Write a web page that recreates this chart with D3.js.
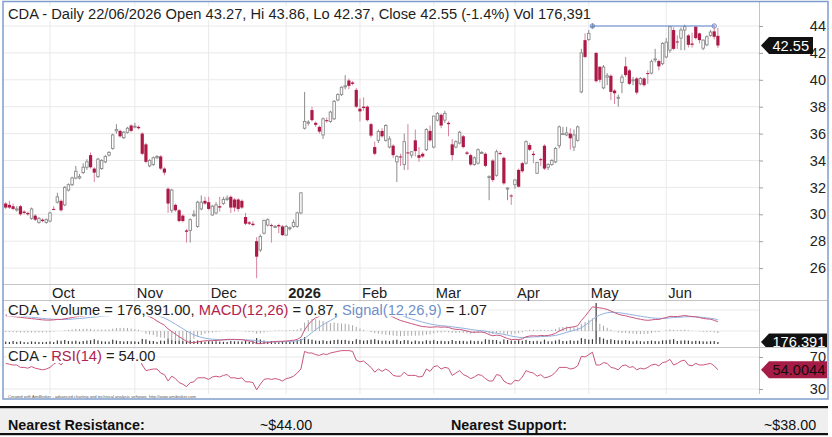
<!DOCTYPE html>
<html><head><meta charset="utf-8">
<script src="https://cdn.jsdelivr.net/npm/d3@7"></script>
<style>
html,body{margin:0;padding:0;background:#fff;}
svg{display:block;font-family:"Liberation Sans",Arial,sans-serif;}
</style></head><body>
<svg id="chart" width="832" height="437"></svg>
<script>
// ---------- DATA ----------
const monthLabels   = ["Oct","Nov","Dec","2026","Feb","Mar","Apr","May","Jun"];
const monthStartIdx = [12,35,55,76,96,116,138,158,179];
const priceTicks = [26,28,30,32,34,36,38,40,42,44];
const macdTicks  = [0,2];
const rsiTicks   = [30,70];

const opens = [
30.8,30.7,30.6,30.4,30.6,30.2,30.1,29.7,29.9,29.4,
29.6,29.4,29.5,30.4,30.9,31.0,30.7,31.8,32.2,32.7,
32.7,33.1,33.5,34.4,33.4,32.8,33.4,33.9,34.4,34.9,
36.2,36.2,35.7,36.1,36.6,36.5,36.5,36.0,35.2,33.6,
33.7,34.2,34.3,33.4,31.9,30.3,30.7,30.3,29.9,28.8,
28.8,29.9,29.1,30.4,31.0,30.9,29.95,30.1,30.6,30.8,
31.1,31.3,31.1,31.1,31.0,29.8,29.4,29.3,28.0,27.35,
28.6,29.2,29.2,29.1,29.2,29.1,28.45,28.95,29.1,29.1,
30.1,36.4,36.8,37.75,36.8,36.5,35.9,37.0,36.9,37.1,
38.5,38.9,39.5,39.95,39.8,39.25,37.85,38.0,38.0,36.7,
35.0,35.5,36.2,35.5,35.0,35.1,33.9,34.3,33.7,34.6,
34.4,35.5,34.4,34.5,34.8,36.2,35.0,37.0,37.4,37.0,
36.8,35.2,35.0,35.3,35.8,34.6,34.4,33.7,33.8,34.6,
34.5,32.8,34.0,32.9,34.55,34.2,31.9,31.4,32.2,33.3,
33.8,33.8,35.15,34.5,33.05,34.1,35.1,33.5,33.7,33.9,
35.1,36.0,35.9,36.0,35.0,35.5,39.1,42.95,43.0,44.0,
42.0,40.97,39.4,40.2,40.3,39.2,38.65,39.8,41.0,40.7,
40.0,40.1,39.7,40.1,40.5,40.5,41.5,41.4,41.2,41.7,
42.2,43.7,42.85,43.1,43.7,43.3,42.7,43.95,43.45,42.35,
42.6,43.3,43.6,43.27];
const highs = [
30.9,31.0,30.8,30.6,30.7,30.3,30.2,30.5,30.0,29.8,
29.7,29.7,30.2,30.6,31.6,31.1,32.1,32.3,32.8,33.6,
33.0,33.8,34.1,34.6,33.5,34.2,34.1,34.4,34.7,36.0,
36.7,36.3,36.2,36.5,36.7,36.8,36.6,36.1,35.3,34.1,
34.3,34.4,34.4,33.5,32.0,31.9,30.8,30.4,30.0,28.9,
29.7,30.3,31.0,31.4,31.3,31.3,30.7,30.9,31.3,31.3,
31.4,31.4,31.2,31.2,31.1,30.1,29.5,29.5,28.3,28.5,
29.6,29.7,29.3,29.2,29.3,29.2,29.2,29.1,29.6,30.2,
31.6,39.1,37.0,38.0,36.9,36.6,37.2,37.2,37.7,38.5,
39.0,39.5,40.35,40.1,39.9,39.4,38.6,38.7,38.1,36.8,
35.4,36.3,36.4,36.7,35.8,35.2,34.4,34.5,36.0,36.7,
34.7,36.3,35.0,34.6,36.4,36.6,37.3,37.6,37.5,37.7,
36.9,35.6,35.5,36.2,35.9,34.7,34.5,34.3,34.9,34.7,
34.6,32.9,34.1,34.8,34.7,34.3,32.0,31.5,32.6,33.4,
33.9,35.5,35.3,34.7,33.9,34.2,35.2,33.8,34.1,35.0,
36.6,36.5,36.5,36.4,36.3,36.6,42.3,43.45,43.7,44.2,
42.05,41.0,41.1,40.5,40.4,39.3,38.9,40.4,41.7,40.8,
40.2,40.2,40.2,40.2,40.7,41.5,42.3,41.5,42.8,43.1,
44.0,43.9,43.3,43.9,44.1,43.4,43.5,44.0,43.5,43.0,
43.3,43.7,44.1,43.86];
const lows = [
30.4,30.4,30.3,30.2,29.9,30.0,29.9,29.6,29.5,29.3,
29.4,29.3,29.4,30.3,30.8,30.2,30.6,31.7,32.1,32.6,
32.6,33.0,33.3,33.4,32.4,32.7,33.3,33.8,34.3,34.8,
36.0,35.7,35.6,36.0,36.1,36.4,36.3,34.4,33.8,33.5,
33.6,34.1,33.3,32.9,30.1,30.1,30.2,29.4,29.4,27.9,
27.9,29.8,29.0,30.3,30.7,30.3,29.9,30.0,30.2,30.7,
31.0,30.1,30.2,30.2,30.4,29.2,29.2,29.1,25.25,27.2,
28.5,29.1,27.9,29.0,28.6,28.4,28.4,28.8,29.0,29.0,
30.0,36.3,36.6,36.9,36.5,36.0,35.6,36.8,36.8,37.0,
38.4,38.8,39.3,39.3,39.6,37.9,36.9,37.7,36.9,35.7,
34.4,35.3,35.7,35.4,34.9,34.2,32.4,33.6,33.3,33.3,
34.2,34.3,33.9,34.2,34.7,35.4,34.9,36.9,36.4,36.8,
35.8,34.0,34.9,35.2,34.9,34.4,33.6,33.6,33.7,34.5,
33.5,31.05,32.4,32.8,34.4,32.2,31.05,30.7,31.9,32.0,
33.1,33.7,34.7,33.8,33.0,33.6,33.3,33.3,33.6,33.8,
34.9,35.9,35.8,34.8,34.7,35.4,39.0,41.6,42.9,43.8,
39.8,39.8,39.3,39.6,38.5,38.2,38.0,39.0,40.2,39.6,
39.6,38.9,39.6,39.5,39.7,40.4,41.3,40.7,41.1,41.6,
42.0,42.2,42.3,42.2,42.2,42.4,42.4,43.0,42.7,42.2,
42.5,43.2,43.0,42.37];
const closes = [
30.5,30.5,30.4,30.4,30.0,30.1,30.0,30.4,29.6,29.7,
29.5,29.6,30.1,30.35,31.3,30.3,32.0,32.2,32.7,33.2,
32.8,33.5,33.9,33.5,33.1,34.1,34.0,34.3,34.6,35.9,
36.3,35.8,36.1,36.4,36.2,36.55,36.4,34.5,33.9,34.0,
34.2,34.3,33.4,33.1,30.8,31.8,30.3,29.5,29.5,28.7,
29.6,30.0,30.9,30.9,30.8,30.4,30.6,30.7,30.5,31.1,
31.2,30.5,30.5,30.4,30.5,29.3,29.3,29.2,26.85,28.35,
29.55,29.6,29.15,29.1,29.1,28.45,29.1,29.0,29.4,30.1,
31.6,36.9,36.85,37.0,36.65,36.15,37.1,36.95,37.6,38.4,
38.9,39.45,39.55,39.55,39.7,38.0,37.65,37.9,37.0,35.85,
34.5,36.15,35.8,36.6,35.6,34.4,34.3,34.25,35.4,34.55,
34.65,34.7,34.2,34.3,36.3,35.5,37.3,37.5,36.6,37.5,
36.7,34.4,35.4,36.1,35.0,34.5,33.7,34.2,34.8,34.6,
33.6,32.8,32.55,34.65,34.5,32.3,31.95,31.35,32.55,32.05,
33.2,35.4,34.8,34.4,33.85,34.05,33.4,33.7,34.0,34.9,
36.5,36.0,36.05,35.65,35.9,36.5,42.0,41.7,43.45,44.0,
39.9,40.0,40.95,40.3,39.1,39.0,38.7,40.2,40.35,39.7,
40.0,39.05,40.1,39.6,40.45,41.35,41.55,41.0,42.7,42.8,
43.95,42.3,42.8,43.7,43.95,42.6,42.6,43.1,42.95,42.95,
43.2,43.55,43.2,42.55];
// volume in thousands of shares
const volumes = [
210,180,260,190,240,170,150,230,200,180,
160,190,220,170,310,280,350,260,240,290,
200,260,300,330,420,310,240,220,210,380,
300,260,220,250,240,230,200,450,400,280,
260,190,300,280,480,360,260,300,270,390,
330,250,310,260,200,250,230,240,210,190,
180,260,240,230,220,300,210,190,520,400,
300,220,260,170,160,230,200,180,240,320,
450,600,420,380,300,280,330,260,300,350,
380,340,360,290,250,420,360,300,330,380,
420,330,280,300,260,330,380,260,340,320,
220,300,250,230,330,280,340,260,280,250,
240,350,260,280,270,230,310,250,280,220,
420,380,360,340,220,400,350,300,280,330,
280,360,270,250,280,220,380,240,230,310,
380,260,250,320,280,300,520,450,380,420,
3600,600,480,360,420,340,320,300,340,280,
230,300,240,220,260,300,260,240,320,330,
380,420,260,300,320,300,240,280,260,230,
220,240,260,176.391];
const macd = [
1.45,1.42,1.38,1.34,1.30,1.26,1.22,1.18,1.14,1.10,
1.06,1.04,1.04,1.06,1.10,1.10,1.16,1.22,1.28,1.35,
1.38,1.42,1.48,1.50,1.46,1.50,1.52,1.56,1.60,1.72,
1.84,1.90,1.95,2.00,2.00,1.98,1.95,1.80,1.50,1.35,
1.20,0.95,0.75,0.55,0.20,-0.05,-0.30,-0.55,-0.75,-1.00,
-1.10,-1.10,-1.05,-0.98,-0.93,-0.92,-0.92,-0.90,-0.88,-0.84,
-0.80,-0.80,-0.80,-0.82,-0.82,-0.90,-0.95,-1.00,-1.20,-1.20,
-1.15,-1.10,-1.05,-1.00,-0.98,-0.98,-0.95,-0.92,-0.88,-0.80,
-0.60,0.10,0.60,1.00,1.25,1.40,1.55,1.65,1.75,2.00,
2.15,2.30,2.45,2.55,2.60,2.55,2.45,2.35,2.25,2.12,
1.98,1.85,1.72,1.60,1.48,1.32,1.15,1.00,0.90,0.80,
0.70,0.60,0.50,0.42,0.40,0.35,0.38,0.40,0.36,0.38,
0.34,0.22,0.16,0.15,0.08,0.00,-0.10,-0.12,-0.10,-0.10,
-0.18,-0.35,-0.45,-0.40,-0.42,-0.58,-0.72,-0.82,-0.80,-0.82,
-0.75,-0.55,-0.48,-0.45,-0.48,-0.42,-0.45,-0.42,-0.35,-0.22,
0.00,0.15,0.30,0.35,0.40,0.50,1.00,1.40,1.85,2.30,
2.25,2.20,2.15,2.05,1.90,1.75,1.60,1.50,1.45,1.35,
1.28,1.18,1.12,1.05,1.02,1.05,1.10,1.10,1.20,1.28,
1.40,1.38,1.38,1.42,1.48,1.42,1.38,1.35,1.28,1.20,
1.15,1.12,1.02,0.87];
const signal = [
1.55,1.53,1.50,1.47,1.44,1.40,1.36,1.32,1.28,1.24,
1.20,1.17,1.14,1.12,1.11,1.10,1.10,1.11,1.13,1.16,
1.19,1.22,1.26,1.30,1.33,1.36,1.39,1.42,1.45,1.50,
1.55,1.60,1.66,1.72,1.77,1.81,1.84,1.83,1.77,1.69,
1.60,1.50,1.37,1.23,1.06,0.86,0.65,0.43,0.22,0.00,
-0.20,-0.36,-0.50,-0.60,-0.68,-0.74,-0.78,-0.81,-0.83,-0.84,
-0.84,-0.83,-0.83,-0.82,-0.82,-0.84,-0.86,-0.88,-0.94,-0.99,
-1.02,-1.04,-1.04,-1.04,-1.03,-1.02,-1.01,-0.99,-0.97,-0.94,
-0.88,-0.70,-0.44,-0.15,0.13,0.38,0.60,0.81,1.00,1.20,
1.40,1.58,1.76,1.92,2.05,2.15,2.21,2.24,2.24,2.22,
2.18,2.12,2.04,1.95,1.86,1.75,1.63,1.50,1.38,1.26,
1.15,1.05,0.94,0.84,0.75,0.67,0.60,0.55,0.51,0.48,
0.45,0.40,0.35,0.31,0.26,0.21,0.15,0.10,0.06,0.03,
-0.02,-0.09,-0.16,-0.21,-0.26,-0.32,-0.40,-0.48,-0.54,-0.60,
-0.63,-0.62,-0.59,-0.56,-0.55,-0.53,-0.52,-0.50,-0.47,-0.42,
-0.34,-0.24,-0.13,-0.03,0.06,0.15,0.32,0.54,0.80,1.10,
1.34,1.52,1.65,1.74,1.78,1.78,1.75,1.70,1.65,1.59,
1.53,1.47,1.41,1.35,1.30,1.25,1.22,1.20,1.20,1.21,
1.25,1.28,1.30,1.32,1.35,1.36,1.36,1.35,1.32,1.29,
1.25,1.21,1.16,1.07];
const rsi = [
62,61,60,60,57,57,56,58,56,55,
54,55,57,61,64,60,66,67,69,71,
69,71,72,69,67,71,71,72,73,76,
77,74,75,76,74,74,73,60,53,54,
55,55,50,48,40,46,43,38,36,33,
38,39,44,44,44,42,45,46,45,47,
48,44,44,43,44,39,39,38,29,36,
42,43,42,43,42,40,43,44,46,50,
55,77,75,75,73,72,74,73,75,76,
77,78,78,78,77,66,64,65,61,57,
51,55,52,55,52,47,46,46,51,47,
47,47,45,46,55,52,58,59,55,57,
56,47,50,53,48,46,43,45,48,47,
43,40,40,48,47,40,37,36,41,40,
45,53,51,50,46,48,44,45,47,51,
57,57,57,55,56,59,71,70,73,76,
60,60,63,62,57,56,54,59,60,57,
58,54,56,55,57,60,61,59,63,64,
67,60,62,65,66,60,59,62,60,60,
61,62,59,54];
const resistanceLevel = 44.0, resistanceFrom = 159, resistanceTo = 192;
const lastVolumeLabel = "176,391", lastPriceLabel = "42.55", lastRsiLabel = "54.0044";
const lastRsiValue = 54.0044;
const footer = [["Nearest Resistance:", true],["~$44.00", false],["Nearest Support:", true],["~$38.00", false]];

// ---------- LAYOUT ----------
const FONT = '"Liberation Sans",Arial,sans-serif';
const svg = d3.select("#chart");
const PL = 3, PR = 759, FR = 828;
const n = closes.length;
const idx = d3.range(n);
const x  = d3.scaleLinear().domain([0, n-1]).range([5.7, 717.9]);
const yP = d3.scaleLinear().domain([26,44]).range([268.1,26]);
const yM = d3.scaleLinear().domain([0,2]).range([331,310]);
const yV = d3.scaleLinear().domain([0,3600]).range([344,303]);
const yR = d3.scaleLinear().domain([30,70]).range([389,357]);

svg.append("rect").attr("width",832).attr("height",437).attr("fill","#fff");
const defs = svg.append("defs");
defs.append("clipPath").attr("id","cp").append("rect").attr("x",PL).attr("y",2).attr("width",PR-PL).attr("height",282);
defs.append("clipPath").attr("id","cm").append("rect").attr("x",PL).attr("y",301).attr("width",PR-PL).attr("height",46);
defs.append("clipPath").attr("id","cr").append("rect").attr("x",PL).attr("y",347).attr("width",PR-PL).attr("height",47);
defs.append("clipPath").attr("id","cmax").append("rect").attr("x",PR).attr("y",301).attr("width",FR-PR).attr("height",46);

// grid
const grid = svg.append("g").attr("stroke","#e9e9e9").attr("stroke-width",1);
grid.selectAll(null).data(priceTicks).join("line")
  .attr("x1",PL).attr("x2",PR).attr("y1",d=>yP(d)).attr("y2",d=>yP(d));
grid.selectAll(null).data(macdTicks).join("line")
  .attr("x1",PL).attr("x2",PR).attr("y1",d=>yM(d)).attr("y2",d=>yM(d));
grid.selectAll(null).data(rsiTicks).join("line")
  .attr("x1",PL).attr("x2",PR).attr("y1",d=>yR(d)).attr("y2",d=>yR(d));
grid.selectAll(null).data(monthStartIdx).join("line")
  .attr("x1",d=>x(d)).attr("x2",d=>x(d)).attr("y1",2).attr("y2",394);

// panel separators
const sep = svg.append("g").attr("stroke","#c4c4c4").attr("stroke-width",1);
sep.append("line").attr("x1",PL).attr("x2",PR).attr("y1",284.5).attr("y2",284.5);
sep.append("line").attr("x1",PL).attr("x2",FR).attr("y1",300.5).attr("y2",300.5);
sep.append("line").attr("x1",PL).attr("x2",FR).attr("y1",347.5).attr("y2",347.5);
sep.append("line").attr("x1",PR+0.5).attr("x2",PR+0.5).attr("y1",2).attr("y2",394);

// candles
const cg = svg.append("g").attr("clip-path","url(#cp)");
const isDown = i => closes[i] < opens[i];
cg.selectAll(null).data(idx).join("line")
  .attr("x1",i=>x(i)).attr("x2",i=>x(i))
  .attr("y1",i=>yP(highs[i])).attr("y2",i=>yP(lows[i]))
  .attr("stroke",i=>isDown(i)?"#d7849d":"#8c8c8c").attr("stroke-width",1);
cg.selectAll(null).data(idx).join("rect")
  .attr("x",i=>isDown(i)?x(i)-1.6:x(i)-1.25)
  .attr("width",i=>isDown(i)?3.2:2.5)
  .attr("y",i=>yP(Math.max(opens[i],closes[i])))
  .attr("height",i=>Math.max(1,Math.abs(yP(opens[i])-yP(closes[i]))))
  .attr("fill",i=>isDown(i)?"#ad1a47":"#fff")
  .attr("stroke",i=>isDown(i)?"none":"#8a8a8a").attr("stroke-width",0.9);

// resistance line
const rg = svg.append("g").attr("stroke","#5d84cf").attr("fill","none");
rg.append("line").attr("x1",x(resistanceFrom)).attr("x2",x(resistanceTo))
  .attr("y1",yP(resistanceLevel)).attr("y2",yP(resistanceLevel)).attr("stroke-width",1.2);
rg.selectAll(null).data([resistanceFrom,resistanceTo]).join("circle")
  .attr("cx",d=>x(d)).attr("cy",yP(resistanceLevel)).attr("r",2.2).attr("stroke-width",0.9);

// volume + macd panel
const mg = svg.append("g").attr("clip-path","url(#cm)");
mg.selectAll(null).data(idx).join("rect")
  .attr("x",i=>x(i)-0.6).attr("width",1.2)
  .attr("y",i=>yV(volumes[i])).attr("height",i=>yV(0)-yV(volumes[i]))
  .attr("fill","#3a3a3a");
mg.selectAll(null).data(idx).join("line")
  .attr("x1",i=>x(i)).attr("x2",i=>x(i))
  .attr("y1",yM(0)).attr("y2",i=>yM(macd[i]-signal[i]))
  .attr("stroke","#a8a8a8").attr("stroke-width",1);
mg.append("path").datum(idx).attr("fill","none").attr("stroke","#92b1e0").attr("stroke-width",1)
  .attr("d",d3.line().x(i=>x(i)).y(i=>yM(signal[i])));
mg.append("path").datum(idx).attr("fill","none").attr("stroke","#c9557e").attr("stroke-width",1)
  .attr("d",d3.line().x(i=>x(i)).y(i=>yM(macd[i])));

// rsi panel
const rsg = svg.append("g").attr("clip-path","url(#cr)");
rsg.append("path").datum(idx).attr("fill","none").attr("stroke","#c9557e").attr("stroke-width",1)
  .attr("d",d3.line().x(i=>x(i)).y(i=>yR(rsi[i])));

// titles (with white backing)
function title(xx, yy, parts){
  const g = svg.append("g");
  const t = g.append("text").attr("x",xx).attr("y",yy).attr("font-family",FONT).attr("font-size",14.7);
  parts.forEach(p=>t.append("tspan").attr("fill",p[1]).text(p[0]));
  const b = t.node().getBBox();
  g.insert("rect","text").attr("x",b.x-1).attr("y",b.y+1).attr("width",b.width+2).attr("height",b.height-2).attr("fill","#fff");
}
title(8,18.5,[["CDA - Daily 22/06/2026 Open 43.27, Hi 43.86, Lo 42.37, Close 42.55 (-1.4%) Vol 176,391","#1e1e1e"]]);
title(8,314.5,[["CDA - Volume = 176,391.00, ","#1e1e1e"],["MACD(12,26)","#b0224c"],[" = 0.87, ","#1e1e1e"],["Signal(12,26,9)","#6f8fc8"],[" = 1.07","#1e1e1e"]]);
title(8,361,[["CDA - ","#1e1e1e"],["RSI(14)","#b0224c"],[" = 54.00","#1e1e1e"]]);

// axes
function styleAxis(g){
  g.attr("font-family",FONT).attr("font-size",14.5);
  g.select(".domain").remove();
  g.selectAll(".tick line").attr("stroke","#a0a0a0");
  g.selectAll(".tick text").attr("x",67).attr("text-anchor","end").attr("fill","#222");
}
svg.append("g").attr("transform",`translate(${PR},0)`)
  .call(d3.axisRight(yP).tickValues(priceTicks).tickSize(4).tickFormat(d3.format("d"))).call(styleAxis);
svg.append("g").attr("transform",`translate(${PR},0)`).attr("clip-path","url(#cmax)")
  .call(d3.axisRight(yM).tickValues(macdTicks).tickSize(4).tickFormat(d3.format("d"))).call(styleAxis);
svg.append("g").attr("transform",`translate(${PR},0)`)
  .call(d3.axisRight(yR).tickValues(rsiTicks).tickSize(4).tickFormat(d3.format("d"))).call(styleAxis);

svg.append("g").attr("transform","translate(0,284)")
  .call(d3.axisBottom(x).tickValues(monthStartIdx).tickFormat((d,i)=>monthLabels[i]).tickSize(0))
  .call(g=>{
    g.attr("font-family",FONT).attr("font-size",14.7);
    g.select(".domain").remove();
    g.selectAll(".tick text").attr("text-anchor","start").attr("x",1.5).attr("y",14.3).attr("dy",0)
     .attr("fill","#222").attr("font-weight",d=>monthLabels[monthStartIdx.indexOf(d)]==="2026"?"bold":"normal");
  });

// value tags
function tag(yc, label, fill, textFill, right, clip){
  const g = svg.append("g");
  if (clip) g.attr("clip-path",clip);
  g.append("path").attr("d",`M761,${yc} L769,${yc-8.5} L${right},${yc-8.5} L${right},${yc+8.5} L769,${yc+8.5} Z`).attr("fill",fill);
  g.append("text").attr("x",772.5).attr("y",yc).attr("dy","0.36em").attr("font-family",FONT)
    .attr("font-size",14.6).attr("fill",textFill).text(label);
}
tag(yP(closes[n-1]), lastPriceLabel, "#111", "#fff", 813, null);
tag(yV(volumes[n-1]), lastVolumeLabel, "#111", "#fff", 827, "url(#cmax)");
tag(yR(lastRsiValue), lastRsiLabel, "#a51d47", "#1a0b0b", 827, null);

// credit line
svg.append("text").attr("x",8).attr("y",398).attr("font-family",FONT).attr("font-size",4.2).attr("fill","#555")
  .attr("textLength",188).attr("lengthAdjust","spacingAndGlyphs")
  .text("Created with AmiBroker - advanced charting and technical analysis software. http://www.amibroker.com");

// outer frame
svg.append("rect").attr("x",3).attr("y",1.5).attr("width",825).attr("height",397.5)
  .attr("fill","none").attr("stroke","#7f9dcc").attr("stroke-width",1.5);

// footer table
svg.append("rect").attr("x",0).attr("y",408).attr("width",828).attr("height",25).attr("fill","#efefef");
svg.append("rect").attr("x",0).attr("y",406).attr("width",828).attr("height",2.2).attr("fill","#111");
svg.append("rect").attr("x",0).attr("y",433).attr("width",828).attr("height",2.2).attr("fill","#111");
const fx = [8,260,451,764];
svg.append("g").selectAll(null).data(footer).join("text")
  .attr("x",(d,i)=>fx[i]).attr("y",429.5).attr("font-family",FONT).attr("font-size",14.3)
  .attr("font-weight",d=>d[1]?"bold":"normal").attr("fill","#111").text(d=>d[0]);
</script>
</body></html>
